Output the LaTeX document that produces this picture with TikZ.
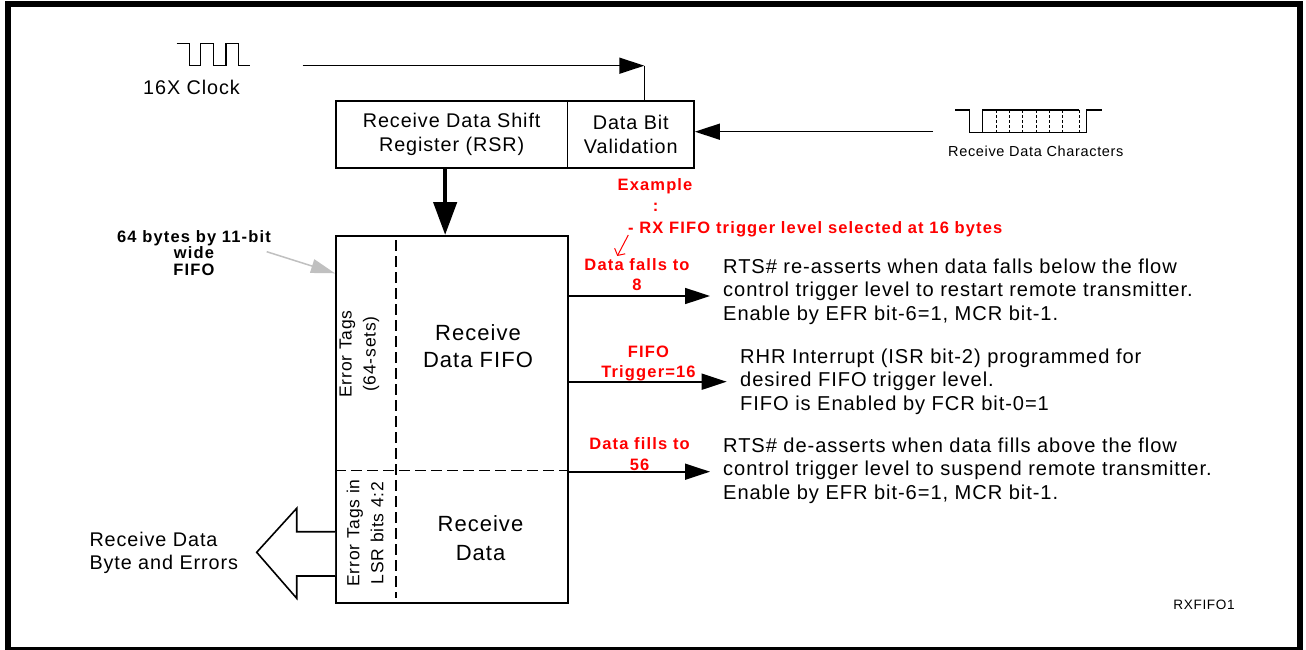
\documentclass[tikz,border=0pt]{standalone}
\usepackage{fontspec}
\setmainfont{Liberation Sans}[LetterSpace=4.6]
\newfontfamily\rsboldfam{Liberation Sans}[LetterSpace=7]
\usetikzlibrary{arrows.meta}
\definecolor{rsred}{RGB}{255,0,0}
\definecolor{rsgray}{RGB}{192,192,192}
\newcommand\rsmain{\fontsize{19.8}{23.7}\selectfont}
\newcommand\rsblock{\fontsize{20.1}{23.6}\selectfont}
\newcommand\rsbig{\fontsize{22}{27}\selectfont}
\newcommand\rsbigb{\fontsize{22}{29}\selectfont}
\newcommand\rstag{\fontsize{17.5}{24}\selectfont}
\newcommand\rssmall{\fontsize{14.5}{17}\selectfont}
\newcommand\rstiny{\fontsize{13.6}{16}\selectfont}
\newcommand\rsredf{\rsboldfam\bfseries\fontsize{16.5}{20.5}\selectfont}
\newcommand\rsblackb{\rsboldfam\bfseries\fontsize{16.5}{16.5}\selectfont}
\begin{document}
\begin{tikzpicture}[x=1pt,y=-1pt,
  wave/.style={line width=1.3pt},
  box/.style={draw, line width=1.6pt, inner sep=0pt, align=center},
  arr/.style={line width=1.6pt, -{Triangle[length=25pt,width=16pt]}},
  redlbl/.style={text=rsred, align=center, font=\rsredf, inner sep=0pt},
  blk/.style={align=left, anchor=west, inner sep=0pt, font=\rsblock},
  dashline/.style={line width=1.5pt, dash pattern=on 11pt off 5pt},
  tick/.style={line width=1pt, dash pattern=on 3pt off 2pt}]
\useasboundingbox (0,0) rectangle (1306,650);
\fill[white] (0,0) rectangle (1306,650);
\draw[line width=6pt] (8,4.5) rectangle (1300,649.5);

% clock
\draw[wave] (176.7,43.3) -- (189.3,43.3) -- (189.3,65.7) -- (200.7,65.7) -- (200.7,43.3)
  -- (213.3,43.3) -- (213.3,65.7) -- (226,65.7) -- (226,43.3) -- (238.3,43.3)
  -- (238.3,65.7) -- (250,65.7);
\node[font=\rsmain, inner sep=0pt] (clk) at (191.5,87.5) {16X Clock};

% boxes
\node[box, minimum width=231.7pt, minimum height=67.3pt, anchor=north west, font=\rsmain] (rsr) at (335,100) {Receive Data Shift\\Register (RSR)};
\node[box, minimum width=126.6pt, minimum height=67.3pt, anchor=north west, font=\rsmain] (dbv) at (566.7,100) {Data Bit\\Validation};
\node[box, minimum width=232.3pt, minimum height=367.3pt, anchor=north west] (fifo) at (335,235) {};

% clock arrow
\coordinate (clkstart) at (302.7,65.7);
\coordinate (clkturn) at (644.3,65.7);
\draw[arr] (clkstart) -- (clkturn);
\draw[line width=1.3pt] (clkturn) -- (clkturn |- dbv.north);

% data characters
\draw[wave] (955,110) -- (969.3,110) -- (969.3,132.7) -- (1086.7,132.7) -- (1086.7,110) -- (1101.7,110);
\draw[wave] (982.7,132.7) -- (982.7,110) -- (1079.3,110);
\foreach \xx in {996,1009.3,1022.7,1036,1049.3,1062.7,1079.3}
  \draw[tick] (\xx,110) -- (\xx,132.7);
\node[font=\rssmall, inner sep=0pt] (rdc) at (1035.8,151) {Receive Data Characters};
\coordinate (dstart) at (933,131.7);
\draw[arr] (dstart) -- (dstart -| dbv.east);

% RSR to FIFO
\draw[line width=4.5pt, -{Triangle[length=33pt,width=23pt]}] ([xshift=-6.5pt]rsr.south) -- ([xshift=-6.5pt]rsr.south |- fifo.north);

% FIFO internals
\draw[dashline] (396,240) -- (396,598);
\draw[dashline] (335,470.7) -- (567.3,470.7);
\node[font=\rsbig, align=center, inner sep=0pt] (fifotxt) at (478,346) {Receive\\Data FIFO};
\node[font=\rsbigb, align=center, inner sep=0pt] (rdtxt) at (480.5,538) {Receive\\Data};
\node[rotate=90, font=\rstag, align=center, inner sep=0pt] (tag1) at (359.5,354) {Error Tags\\(64-sets)};
\node[rotate=90, font=\rstag, align=center, inner sep=0pt] (tag2) at (365,533) {Error Tags in\\LSR bits 4:2};

% width label with gray arrow
\node[font=\rsblackb, align=center, inner sep=0pt] (wlbl) at (194,253) {64 bytes by 11-bit\\wide\\FIFO};
\coordinate (gstart) at (266.7,251.7);
\draw[line width=1.5pt, rsgray, -{Triangle[length=24pt,width=14pt]}] (gstart) -- ([yshift=-38.3pt]fifo.north west);

% big output arrow
\draw[line width=1.6pt, fill=white] (335,531.7) -- (296.7,531.7) -- (296.7,508.3) -- (256.7,552.3)
  -- (296.7,598.3) -- (296.7,576) -- (335,576);
\node[blk, font=\rsmain] (outlbl) at (89.3,553) {Receive Data\\Byte and Errors};

% red example text
\node[redlbl] (ex1) at (655,186.5) {Example};
\node[redlbl] (ex2) at (655.7,207.5) {:};
\node[redlbl, anchor=west] (ex3) at (628,229) {- RX FIFO trigger level selected at 16 bytes};
\draw[rsred, line width=1pt, -{Straight Barb[length=5pt,width=12pt]}] (628.3,235) -- (617.3,256);

% right arrows
\coordinate (a1) at (710,296);
\coordinate (a2) at (726.7,381.7);
\coordinate (a3) at (710,471.7);
\draw[arr] (a1 -| fifo.east) -- (a1);
\draw[arr] (a2 -| fifo.east) -- (a2);
\draw[arr] (a3 -| fifo.east) -- (a3);
\node[redlbl] (r1) at (637,274.5) {Data falls to\\8};
\node[redlbl] (r2) at (648.5,363.3) {FIFO\\Trigger=16};
\node[redlbl] (r3) at (639.5,454) {Data fills to\\56};

\node[blk] (t1) at (723,291.5) {RTS\# re-asserts when data falls below the flow\\control trigger level to restart remote transmitter.\\Enable by EFR bit-6=1, MCR bit-1.};
\node[blk] (t2) at (740,381.5) {RHR Interrupt (ISR bit-2) programmed for\\desired FIFO trigger level.\\FIFO is Enabled by FCR bit-0=1};
\node[blk] (t3) at (723,470.5) {RTS\# de-asserts when data fills above the flow\\control trigger level to suspend remote transmitter.\\Enable by EFR bit-6=1, MCR bit-1.};

\node[font=\rstiny, inner sep=0pt] (rx) at (1204,605) {RXFIFO1};
\end{tikzpicture}
\end{document}
